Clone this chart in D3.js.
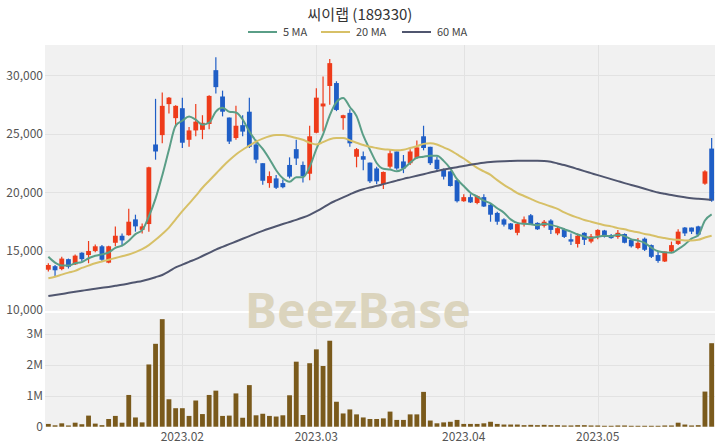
<!DOCTYPE html>
<html><head><meta charset="utf-8">
<script src="https://cdn.jsdelivr.net/npm/d3@7"></script>
<style>
html,body{margin:0;padding:0;background:#fff;}
svg{display:block;font-family:"Noto Sans CJK KR","Noto Sans",sans-serif;}
</style></head>
<body><svg id="c" width="720" height="448"></svg>
<script>
const title = "씨이랩 (189330)";
const dates = [
"2023-01-02","2023-01-03","2023-01-04","2023-01-05","2023-01-06","2023-01-09","2023-01-10","2023-01-11","2023-01-12","2023-01-13",
"2023-01-16","2023-01-17","2023-01-18","2023-01-19","2023-01-20","2023-01-25","2023-01-26","2023-01-27","2023-01-30","2023-01-31",
"2023-02-01","2023-02-02","2023-02-03","2023-02-06","2023-02-07","2023-02-08","2023-02-09","2023-02-10","2023-02-13","2023-02-14",
"2023-02-15","2023-02-16","2023-02-17","2023-02-20","2023-02-21","2023-02-22","2023-02-23","2023-02-24","2023-02-27","2023-02-28",
"2023-03-02","2023-03-03","2023-03-06","2023-03-07","2023-03-08","2023-03-09","2023-03-10","2023-03-13","2023-03-14","2023-03-15",
"2023-03-16","2023-03-17","2023-03-20","2023-03-21","2023-03-22","2023-03-23","2023-03-24","2023-03-27","2023-03-28","2023-03-29",
"2023-03-30","2023-03-31","2023-04-03","2023-04-04","2023-04-05","2023-04-06","2023-04-07","2023-04-10","2023-04-11","2023-04-12",
"2023-04-13","2023-04-14","2023-04-17","2023-04-18","2023-04-19","2023-04-20","2023-04-21","2023-04-24","2023-04-25","2023-04-26",
"2023-04-27","2023-04-28","2023-05-02","2023-05-03","2023-05-04","2023-05-08","2023-05-09","2023-05-10","2023-05-11","2023-05-12",
"2023-05-15","2023-05-16","2023-05-17","2023-05-18","2023-05-19","2023-05-22","2023-05-23","2023-05-24","2023-05-25","2023-05-26"];
const open = [13400,13700,13450,14300,13850,14850,14650,15000,15400,14000,15700,16300,16350,17700,16800,17300,24100,24900,27550,26350,
27200,24500,25300,25350,25850,30450,28200,26400,24650,25750,26900,24100,22500,20800,21200,20800,22350,23700,22350,21600,
25100,27350,29100,29350,26350,26800,23050,23100,22550,22050,20700,22200,23500,22650,22500,22950,24800,23900,22800,22000,
21800,21050,19250,19600,19100,19600,18950,18250,17700,17350,16550,17400,18050,17400,17150,17600,16500,16850,16000,15600,
16550,15800,16300,16750,16350,16200,16450,15950,15250,16050,15500,14650,14100,14950,15600,17000,17000,17100,20750,23750];
const high = [13950,13800,14500,14350,14700,14900,15850,15550,15500,15450,17100,16500,18600,18100,17350,22200,28000,28550,28150,27450,
28100,25600,27550,26600,28300,31550,28700,26400,27400,26600,28100,24500,22500,21800,21500,21100,23000,24500,22650,25700,
28900,29900,31400,29500,26650,27100,23800,23500,22550,22200,21800,23700,23500,23200,23700,24450,25700,23900,23050,22050,
21850,21050,19850,19850,19750,19850,19100,18350,17800,17400,17400,17950,18150,17450,17650,17700,17100,16950,16500,16500,
16600,16450,16850,16800,16450,16800,16500,16050,16100,16150,15550,14950,14950,15800,16850,17050,17000,17150,21900,24650];
const low = [13250,12800,13350,13500,13800,14100,13950,14900,14150,13950,15400,15400,16300,16650,16500,16650,22800,24200,26750,25600,
23800,23900,24800,24550,25400,28450,26500,24150,24500,24800,23800,22500,20650,20400,20300,20350,21200,22350,20850,21050,
25050,25200,27500,26950,25350,23900,22150,21900,20800,20700,20300,22050,21950,21650,22350,22850,23600,22350,21750,21100,
20500,19150,19200,19100,19000,18750,17500,17250,17100,16800,16350,17100,17250,16800,17000,16450,16350,16100,15500,15300,
15500,15650,16000,16150,16050,16050,15650,15300,15150,15000,14400,14000,14050,14850,15500,16280,16450,16250,20650,19200];
const close = [13800,13350,14350,13650,14600,14300,15000,15400,14250,15400,16300,15900,17500,17100,17100,22150,23500,27400,28100,27400,
24250,25300,26050,25950,28250,29000,26900,24350,25700,25200,23900,22800,21000,21400,20400,20450,21350,22900,21400,24800,
28100,27600,31050,27050,26600,24200,23700,22800,20950,20950,21750,23350,22050,22050,23500,23850,23800,22500,22000,21350,
20550,19250,19600,19150,19700,18800,18100,17500,17250,16850,17300,17700,17300,16850,17500,16800,16950,16200,15800,16300,
15950,16250,16800,16200,16100,16550,15700,15400,15700,15100,14500,14150,14950,15500,16650,16500,16650,16400,21800,19300];
const volume = [90000,45000,110000,40000,130000,80000,360000,100000,50000,250000,350000,130000,1030000,300000,140000,2020000,2690000,3490000,890000,600000,
600000,350000,850000,410000,1030000,1170000,350000,360000,1080000,290000,1350000,370000,420000,350000,330000,370000,1020000,2110000,380000,2060000,
2510000,1970000,2790000,810000,430000,560000,400000,300000,250000,250000,270000,490000,220000,220000,400000,400000,1130000,200000,110000,140000,
160000,220000,90000,90000,90000,110000,160000,90000,70000,70000,70000,50000,60000,50000,60000,50000,50000,40000,40000,50000,
50000,40000,40000,30000,30000,40000,40000,30000,30000,30000,30000,30000,40000,40000,130000,70000,40000,50000,1140000,2710000];
const ma5 = [14500,14000,13750,13750,13950,14050,14380,14590,14710,14870,15270,15450,15870,16440,16780,17950,19470,21450,23650,25710,
26130,26490,26220,25790,25960,26910,27230,26890,26840,26230,25210,24390,23720,22860,21900,21210,20920,21300,21300,22180,
23710,24960,26590,27720,28080,27300,26520,24870,23650,22520,22030,21960,21810,22030,22540,22960,23050,23140,23130,22700,
22040,21130,20550,19980,19650,19300,19070,18650,18270,17700,17400,17320,17280,17200,17330,17230,17080,16860,16650,16410,
16240,16100,16220,16300,16260,16380,16270,15990,15890,15690,15280,14970,14880,14840,15150,15550,16050,16340,17600,18130];
const ma20 = [12670,12800,12980,13150,13300,13550,13750,13950,14100,14250,14400,14550,14700,14900,15150,15500,15950,16450,17000,17700,
18400,19050,19700,20400,21000,21600,22200,22750,23250,23650,24000,24350,24600,24800,24900,24900,24800,24650,24500,24250,
24100,24300,24550,24650,24650,24450,24250,24050,23900,23800,23700,23650,23600,23650,23800,23950,24150,24200,24100,23850,
23600,23250,22900,22500,22100,21800,21500,21050,20650,20300,19950,19700,19450,19200,19000,18800,18600,18300,18050,17850,
17650,17500,17350,17200,17100,16950,16850,16700,16600,16450,16350,16200,16100,16000,15950,15900,15900,15950,16150,16300];
const ma60 = [11150,11240,11330,11420,11510,11600,11690,11770,11850,11930,12020,12110,12220,12330,12440,12590,12760,12950,13250,13600,
13830,14070,14300,14570,14840,15120,15350,15580,15810,16040,16270,16500,16720,16920,17110,17300,17480,17660,17860,18090,
18380,18700,19050,19320,19580,19830,20080,20280,20430,20560,20710,20860,21010,21160,21290,21420,21560,21700,21840,21960,
22060,22160,22260,22370,22460,22540,22600,22640,22670,22690,22700,22700,22700,22700,22690,22620,22480,22340,22180,22000,
21820,21650,21480,21310,21140,20970,20800,20640,20480,20310,20150,19990,19880,19780,19680,19590,19510,19460,19420,19370];
const priceTicks = [10000,15000,20000,25000,30000];
const volTicks = [0,1000000,2000000,3000000];
const volTickLabels = ["0","1M","2M","3M"];
const xTickDates = ["2023-02-01","2023-03-02","2023-04-03","2023-05-02"];
const xTickLabels = ["2023.02","2023.03","2023.04","2023.05"];
const maNames = ["5 MA","20 MA","60 MA"];

const UP="#ee3b1a", DOWN="#1f5ec6", VOLC="#7a5a1c";
const maColors = ["#5a9e87","#d7c067","#50566f"];
const svg = d3.select("#c");
const L=45, R=715, T1=45, B1=311, T2=313, B2=427;

const x = d3.scaleBand().domain(dates).range([L,R]).paddingInner(0.28).paddingOuter(0.14);
const cx = d => x(d)+x.bandwidth()/2;
const y = d3.scaleLinear().domain([9870,32600]).range([B1,T1]);
const yv = d3.scaleLinear().domain([0,3690000]).range([426.7,T2]);

// backgrounds
svg.append("rect").attr("x",L).attr("y",T1).attr("width",R-L).attr("height",B1-T1).attr("fill","#f1f1f1");
svg.append("rect").attr("x",L).attr("y",T2).attr("width",R-L).attr("height",B2-T2).attr("fill","#f1f1f1");

// grid
const g = svg.append("g").attr("stroke","#e2e2e2").attr("stroke-width",1);
priceTicks.forEach(t=>{ if(t>10000) g.append("line").attr("x1",L).attr("x2",R).attr("y1",Math.round(y(t))+0.5).attr("y2",Math.round(y(t))+0.5);});
volTicks.forEach(t=>{ if(t>0) g.append("line").attr("x1",L).attr("x2",R).attr("y1",Math.round(yv(t))+0.5).attr("y2",Math.round(yv(t))+0.5);});
xTickDates.forEach(d=>{
  const xx=Math.round(cx(d))+0.5;
  g.append("line").attr("x1",xx).attr("x2",xx).attr("y1",T1).attr("y2",B1);
  g.append("line").attr("x1",xx).attr("x2",xx).attr("y1",T2).attr("y2",B2);
});

// watermark
svg.append("text").attr("x",358).attr("y",328).attr("text-anchor","middle")
  .attr("font-size",48).attr("font-weight",700).attr("fill","#dbd4bd")
  .attr("font-family","'Noto Sans','Open Sans',sans-serif").text("BeezBase");

// candles
const cg = svg.append("g");
dates.forEach((d,i)=>{
  const up = close[i]>=open[i];
  const col = up?UP:DOWN;
  const xc = cx(d);
  cg.append("line").attr("x1",xc).attr("x2",xc).attr("y1",y(high[i])).attr("y2",y(low[i])).attr("stroke",col).attr("stroke-width",1.2);
  const top = y(Math.max(open[i],close[i])), bot=y(Math.min(open[i],close[i]));
  cg.append("rect").attr("x",x(d)).attr("width",x.bandwidth()).attr("y",top).attr("height",Math.max(1.5,bot-top)).attr("fill",col);
});

// MA lines
[ma5,ma20,ma60].forEach((arr,k)=>{
  const line = d3.line().x((v,i)=>cx(dates[i])).y(v=>y(v)).curve(d3.curveMonotoneX);
  svg.append("path").attr("d",line(arr)).attr("fill","none").attr("stroke",maColors[k]).attr("stroke-width",2);
});

// volume
svg.append("g").selectAll("rect").data(volume).join("rect")
  .attr("x",(v,i)=>x(dates[i])).attr("width",x.bandwidth())
  .attr("y",v=>yv(v)).attr("height",v=>426.7-yv(v)).attr("fill",VOLC);

// axes labels
const ax = svg.append("g").attr("fill","#555").attr("font-size",12);
priceTicks.forEach(t=>ax.append("text").attr("x",43).attr("y",y(t)).attr("dy","0.35em").attr("text-anchor","end").text(d3.format(",")(t)));
volTicks.forEach((t,i)=>ax.append("text").attr("x",43).attr("y",yv(t)).attr("dy","0.35em").attr("text-anchor","end").text(volTickLabels[i]));
xTickDates.forEach((d,i)=>ax.append("text").attr("x",cx(d)).attr("y",437).attr("dy","0.35em").attr("text-anchor","middle").text(xTickLabels[i]));

// title
svg.append("text").attr("x",360).attr("y",20).attr("text-anchor","middle").attr("font-size",15).attr("fill","#333").text(title);

// legend
const legX = [248,321,402];
maNames.forEach((n,k)=>{
  svg.append("line").attr("x1",legX[k]).attr("x2",legX[k]+29).attr("y1",32).attr("y2",32).attr("stroke",maColors[k]).attr("stroke-width",2);
  svg.append("text").attr("x",legX[k]+35).attr("y",32).attr("dy","0.35em").attr("font-size",11).attr("fill","#444").text(n);
});
</script></body></html>
